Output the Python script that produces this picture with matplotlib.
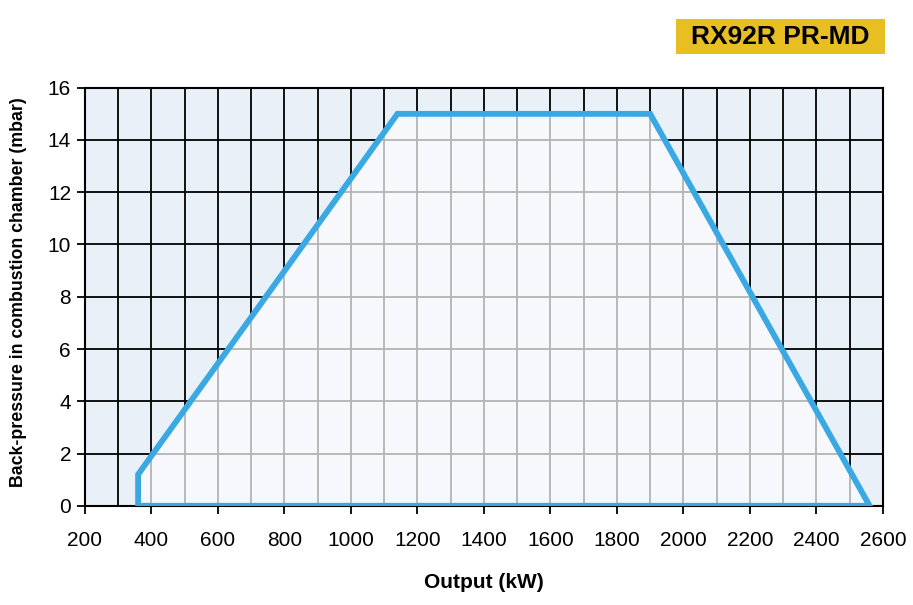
import matplotlib
matplotlib.use("Agg")
import matplotlib.pyplot as plt
from matplotlib.patches import Polygon, Rectangle
import numpy as np

plt.rcParams['font.family'] = ['Liberation Sans', 'DejaVu Sans']

# operating envelope of the burner
output_kw = [360, 360, 1140, 1900, 2560]
pressure_mbar = [0, 1.2, 15, 15, 0]

x_ticks = [200, 400, 600, 800, 1000, 1200, 1400, 1600, 1800, 2000, 2200, 2400, 2600]
y_ticks = [0, 2, 4, 6, 8, 10, 12, 14, 16]
model_name = "RX92R PR-MD"

blue = '#3aa8e2'
fig = plt.figure(figsize=(9.13, 6.05), dpi=100)
ax = fig.add_axes([0.093, 0.164, 0.874, 0.691])
ax.set_xlim(200, 2600)
ax.set_ylim(0, 16)
ax.set_facecolor('#e9f0f8')

grid_x = np.arange(200, 2601, 100)
grid_y = np.arange(0, 16.1, 2)
ax.vlines(grid_x, 0, 16, color='black', lw=1.3, zorder=1)
ax.hlines(grid_y, 200, 2600, color='black', lw=1.3, zorder=1)

pts = list(zip(output_kw, pressure_mbar))
fill = Polygon(pts, closed=True, facecolor='#f6f8fc', edgecolor='none', zorder=2)
ax.add_patch(fill)
vl = ax.vlines(grid_x, 0, 16, color='#b4b4b4', lw=1.3, zorder=3)
hl = ax.hlines(grid_y, 200, 2600, color='#b4b4b4', lw=1.3, zorder=3)
vl.set_clip_path(fill)
hl.set_clip_path(fill)

edge = Polygon(pts, closed=True, facecolor='none', edgecolor=blue, lw=4.2, joinstyle='miter', zorder=4)
ax.add_patch(edge)

ax.set_xticks(x_ticks)
ax.set_yticks(y_ticks)
ax.tick_params(axis='both', labelsize=15, direction='out', width=1.3, color='black')
ax.tick_params(axis='x', length=6, pad=12)
ax.tick_params(axis='y', length=6, pad=4)
for s in ax.spines.values():
    s.set_linewidth(1.5)

ax.set_xlabel("Output (kW)", fontsize=15, fontweight='bold', labelpad=17)
ax.set_ylabel("Back-pressure in combustion chamber (mbar)", fontsize=12.8, fontweight='bold')
ax.yaxis.set_label_coords(-0.072, 0.512)

# model badge
fig.patches.append(Rectangle((676 / 913, 1 - 54 / 605), 209 / 913, 35 / 605,
                             transform=fig.transFigure, facecolor='#e8bf22', edgecolor='none'))
fig.text(780.5 / 913, 1 - 37 / 605, model_name, fontsize=19, fontweight='bold',
         ha='center', va='center')

plt.savefig('out.png', dpi=100)
